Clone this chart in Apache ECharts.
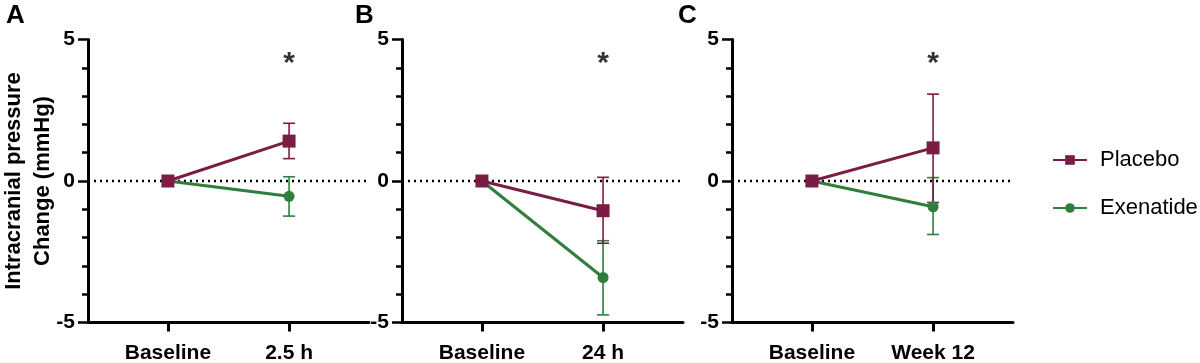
<!DOCTYPE html>
<html><head><meta charset="utf-8">
<script src="https://cdn.jsdelivr.net/npm/echarts@6/dist/echarts.min.js"></script>
<style>html,body{margin:0;padding:0;background:#fff}#c{width:1200px;height:363px}</style>
</head><body><div id="c"></div>
<script>
const panelLetters = ['A', 'B', 'C'];
const timeLabels = [['Baseline', '2.5 h'], ['Baseline', '24 h'], ['Baseline', 'Week 12']];
const xPositions = [0, 1];
const placeboMean = [[0, 1.41], [0, -1.05], [0, 1.17]];
const placeboLow = [[0, 0.79], [0, -2.2], [0, -0.76]];
const placeboHigh = [[0, 2.04], [0, 0.13], [0, 3.07]];
const exenatideMean = [[0, -0.54], [0, -3.41], [0, -0.91]];
const exenatideLow = [[0, -1.24], [0, -4.73], [0, -1.89]];
const exenatideHigh = [[0, 0.15], [0, -2.11], [0, 0.12]];
const sigMarks = ['*', '*', '*'];
const sigLevel = [4.4, 4.4, 4.4];
const yTicks = [-5, 0, 5];

const PLACEBO = '#7B1C44';
const EXEN = '#2F7E3C';
const FONT = "'Liberation Sans', Arial, sans-serif";
const gridLefts = [88, 402, 732];

const chart = echarts.init(document.getElementById('c'));
const grids = [], xAxes = [], yAxes = [], series = [], titles = [];

function errRender(color) {
  return function (params, api) {
    const x = api.value(0), lo = api.value(1), hi = api.value(2);
    if (lo === hi) return null;
    const p1 = api.coord([x, lo]), p2 = api.coord([x, hi]);
    const w = 6;
    const style = { stroke: color, lineWidth: 1.6 };
    return { type: 'group', children: [
      { type: 'line', shape: { x1: p1[0], y1: p1[1], x2: p2[0], y2: p2[1] }, style },
      { type: 'line', shape: { x1: p1[0] - w, y1: p1[1], x2: p1[0] + w, y2: p1[1] }, style },
      { type: 'line', shape: { x1: p2[0] - w, y1: p2[1], x2: p2[0] + w, y2: p2[1] }, style }
    ]};
  };
}

for (let i = 0; i < 3; i++) {
  grids.push({ left: gridLefts[i], width: 281, top: 39.5, height: 283, outerBoundsMode: 'none', containLabel: false });
  titles.push({ text: panelLetters[i], left: [1, 350, 673][i], top: -2,
    textStyle: { fontFamily: FONT, fontWeight: 'bold', fontSize: 26, color: '#000' } });
  const labels = timeLabels[i];
  xAxes.push({
    type: 'value', gridIndex: i, min: -0.66, max: 1.66,
    splitLine: { show: false },
    axisLine: { onZero: false, lineStyle: { color: '#000', width: 3 } },
    axisTick: { customValues: xPositions, length: 9, lineStyle: { color: '#000', width: 3 } },
    axisLabel: { customValues: xPositions, formatter: v => labels[Math.round(v)], margin: 20,
      fontFamily: FONT, fontWeight: 'bold', fontSize: 21, color: '#000' }
  });
  yAxes.push({
    type: 'value', gridIndex: i, min: -5, max: 5, interval: 5,
    splitLine: { show: false },
    axisLine: { onZero: false, lineStyle: { color: '#000', width: 3 } },
    axisTick: { length: 10, lineStyle: { color: '#000', width: 2.5 } },
    minorTick: { show: true, splitNumber: 5, length: 6, lineStyle: { color: '#000', width: 2.5 } },
    axisLabel: { margin: 13, fontFamily: FONT, fontWeight: 'bold', fontSize: 21, color: '#000',
      formatter: v => (yTicks.includes(v) ? String(v) : '') },
    name: i === 0 ? 'Intracranial pressure\nChange (mmHg)' : '',
    nameLocation: 'middle', nameRotate: 90, nameGap: 31, nameMoveOverlap: false,
    nameTextStyle: { fontFamily: FONT, fontWeight: 'bold', fontSize: 22, lineHeight: 29, color: '#000' }
  });
  series.push({
    name: 'Exenatide', type: 'line', xAxisIndex: i, yAxisIndex: i,
    data: [[xPositions[0], exenatideMean[i][0]], [xPositions[1], exenatideMean[i][1]]],
    symbol: 'circle', symbolSize: 11, lineStyle: { color: EXEN, width: 3 },
    itemStyle: { color: EXEN }, z: 3,
    markLine: { silent: true, symbol: 'none', label: { show: false },
      lineStyle: { color: '#000', type: [2, 4], width: 2.4 }, data: [{ yAxis: 0 }], z: 1 }
  });
  series.push({
    type: 'custom', xAxisIndex: i, yAxisIndex: i, z: 2,
    renderItem: errRender(EXEN),
    data: [[xPositions[0], exenatideLow[i][0], exenatideHigh[i][0]], [xPositions[1], exenatideLow[i][1], exenatideHigh[i][1]]]
  });
  series.push({
    type: 'custom', xAxisIndex: i, yAxisIndex: i, z: 2,
    renderItem: errRender(PLACEBO),
    data: [[xPositions[0], placeboLow[i][0], placeboHigh[i][0]], [xPositions[1], placeboLow[i][1], placeboHigh[i][1]]]
  });
  series.push({
    name: 'Placebo', type: 'line', xAxisIndex: i, yAxisIndex: i,
    data: [[xPositions[0], placeboMean[i][0]], [xPositions[1], placeboMean[i][1]]],
    symbol: 'rect', symbolSize: 13, lineStyle: { color: PLACEBO, width: 3 },
    itemStyle: { color: PLACEBO }, z: 4
  });
  series.push({
    type: 'scatter', xAxisIndex: i, yAxisIndex: i, symbolSize: 0, silent: true,
    data: [[xPositions[1], sigLevel[i]]],
    label: { show: true, position: 'inside', formatter: sigMarks[i],
      fontFamily: FONT, fontWeight: 'bold', fontSize: 30, color: '#000', offset: [0, 7] }
  });
}

chart.setOption({
  animation: false,
  title: titles,
  grid: grids, xAxis: xAxes, yAxis: yAxes, series,
  legend: {
    data: ['Placebo', 'Exenatide'], orient: 'vertical', left: 1047, top: 144,
    itemWidth: 34, itemHeight: 12, itemGap: 26,
    textStyle: { fontFamily: FONT, fontSize: 22, color: '#000', padding: [0, 0, 0, 8] }
  }
});
</script></body></html>
